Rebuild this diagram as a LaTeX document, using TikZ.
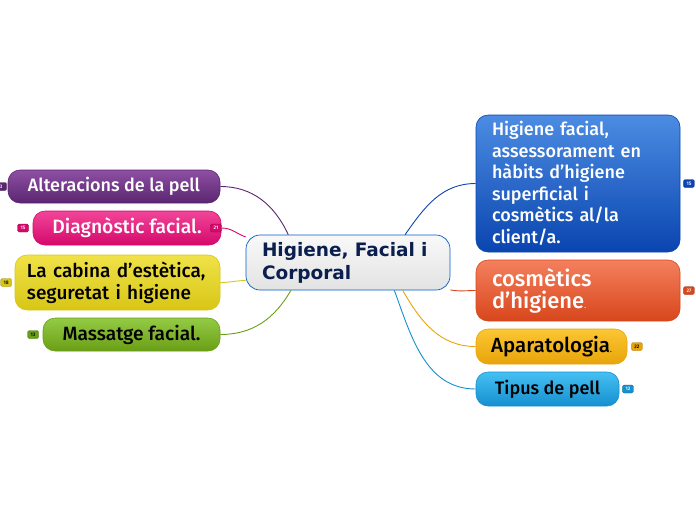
\documentclass[tikz,border=0pt]{standalone}
\usepackage{fontspec}
\newfontfamily\branchfont{Fira Sans Medium}
\newfontfamily\rootfont{DejaVu Sans}
\usetikzlibrary{positioning}

\definecolor{purpleA}{HTML}{8E4FA3}\definecolor{purpleB}{HTML}{5A2670}
\definecolor{pinkA}{HTML}{F2459A}\definecolor{pinkB}{HTML}{D4096A}
\definecolor{yellowA}{HTML}{F0E248}\definecolor{yellowB}{HTML}{D8C616}
\definecolor{greenA}{HTML}{94CB45}\definecolor{greenB}{HTML}{6A9E16}
\definecolor{blueA}{HTML}{4C8CE2}\definecolor{blueB}{HTML}{0A45B0}
\definecolor{orangeA}{HTML}{F4805E}\definecolor{orangeB}{HTML}{D8461C}
\definecolor{goldA}{HTML}{FCC634}\definecolor{goldB}{HTML}{E8A40A}
\definecolor{skyA}{HTML}{45C0F2}\definecolor{skyB}{HTML}{168FD0}
\definecolor{rootText}{HTML}{0B1F4F}

\begin{document}
\begin{tikzpicture}[x=1pt,y=-1pt,
          every node/.style={font=\branchfont\fontsize{18}{21.5}\selectfont},
          size/.style={font=\branchfont\fontsize{#1}{22}\selectfont},
          root/.style={rounded corners=14pt,draw=blue!55!cyan!80!black,line width=0.7pt,
            top color=gray!5,bottom color=gray!22,text=rootText,align=left,
            text width=172pt,inner xsep=16pt,minimum height=55pt,
            font=\rootfont\bfseries\fontsize{18.5}{23}\selectfont},
          branch/.style={rounded corners=12pt,draw=#1B,line width=0.6pt,
            top color=#1A,bottom color=#1B,text=white,inner xsep=16pt,inner ysep=2pt},
          badge/.style={rounded corners=1.5pt,fill=#1B,draw=#1B!70!black,line width=0.3pt,
            minimum width=11pt,minimum height=8pt,inner sep=0.5pt,text=white,
            font=\branchfont\fontsize{5}{5}\selectfont},
          link/.style={draw=#1B,line width=0.9pt},
        ]
        \useasboundingbox (0,0) rectangle (696,520);
        % centre
        \node[root] (root) at (348,262.5) {Higiene, Facial i\\Corporal};
        % left side
        \node[branch=purple,minimum width=212pt,minimum height=33pt] (alt) at (114,186.5) {Alteracions de la pell};
        \node[branch=pink,size=19.3,minimum width=188pt,minimum height=34pt] (diag) at (127,228) {Diagnòstic facial.};
        \node[branch=yellow,size=19,text=black,align=left,text width=181pt,inner xsep=12pt,minimum height=55pt] (cab) at (117.5,282.5) {La cabina d’estètica,\\seguretat i higiene};
        \node[branch=green,size=19.2,text=black,minimum width=177pt,minimum height=33pt] (mas) at (131.5,334.5) {Massatge facial.};
        % right side
        \node[branch=blue,align=left,text width=172pt,minimum height=137pt] (hf) at (578,183.5) {Higiene facial,\\assessorament en\\hàbits d’higiene\\superficial i\\cosmètics al/la\\client/a.};
        \node[branch=orange,size=22,align=left,text width=172pt,minimum height=61pt] (cos) at (578,290.5) {cosmètics\\d’higiene{\fontsize{7}{7}\selectfont.}};
        \node[branch=gold,size=20.5,text=black,inner xsep=10pt,minimum width=151pt,minimum height=35pt] (apa) at (551.5,346.5) {Aparatologia{\fontsize{7}{7}\selectfont.}};
        \node[branch=sky,text=black,minimum width=143pt,minimum height=34pt] (tip) at (547.5,389) {Tipus de pell};
        % badges
        \node[badge=purple,left=1pt of alt] (altN) {3};
        \node[badge=pink,left=4pt of diag] (diagN) {15};
        \node[badge=pink,right=-11pt of diag] (diagM) {21};
        \node[badge=yellow,text=black,left=3pt of cab] (cabN) {18};
        \node[badge=green,text=black,left=4pt of mas] (masN) {13};
        \node[badge=blue,right=3pt of hf] (hfN) {15};
        \node[badge=orange,right=3pt of cos] (cosN) {27};
        \node[badge=gold,text=black,right=4pt of apa] (apaN) {22};
        \node[badge=sky,right=3pt of tip] (tipN) {12};
        % links
        \draw[link=purple] (root.155) to[out=115,in=0] (alt.east);
        \draw[link=pink] (root.166) to[out=160,in=0] (diagM.east);
        \draw[link=yellow] (root.190) to[out=180,in=0] (cab.east);
        \draw[link=green] (root.206) to[out=-120,in=0] (mas.east);
        \draw[link=blue] (root.26) to[out=55,in=180] (hf.west);
        \draw[link=orange] (root.345) to[out=-10,in=180] (cos.west);
        \draw[link=gold] (root.333) to[out=-60,in=180] (apa.west);
        \draw[link=sky] (root.329) to[out=-70,in=180] (tip.west);
      \end{tikzpicture}
\end{document}
